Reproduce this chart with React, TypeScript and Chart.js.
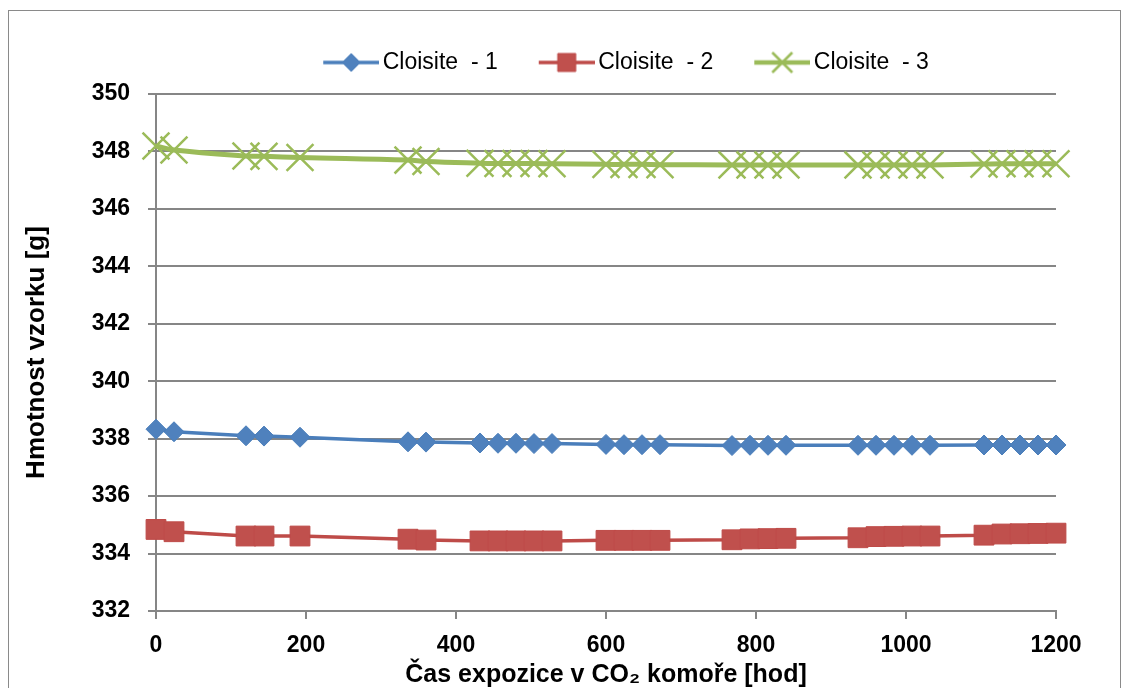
import React, { useEffect, useRef } from "react";
import { Chart, registerables } from "chart.js";

Chart.register(...registerables);

// ---- data ----
const hours = [0, 24, 120, 144, 192, 336, 360, 432, 456, 480, 504, 528, 600, 624, 648, 672, 768, 792, 816, 840, 936, 960, 984, 1008, 1032, 1104, 1128, 1152, 1176, 1200];
const cloisite1 = [338.33, 338.24, 338.10, 338.09, 338.05, 337.89, 337.88, 337.85, 337.84, 337.84, 337.83, 337.83, 337.80, 337.79, 337.79, 337.79, 337.76, 337.77, 337.77, 337.77, 337.77, 337.77, 337.77, 337.77, 337.77, 337.78, 337.78, 337.78, 337.78, 337.78];
const cloisite2 = [334.84, 334.76, 334.61, 334.61, 334.61, 334.50, 334.47, 334.44, 334.44, 334.44, 334.44, 334.44, 334.46, 334.46, 334.46, 334.46, 334.48, 334.51, 334.52, 334.53, 334.55, 334.59, 334.60, 334.61, 334.61, 334.64, 334.68, 334.69, 334.70, 334.71];
const cloisite3 = [348.19, 348.05, 347.84, 347.83, 347.79, 347.70, 347.65, 347.59, 347.58, 347.58, 347.58, 347.57, 347.55, 347.55, 347.55, 347.54, 347.53, 347.53, 347.53, 347.53, 347.53, 347.53, 347.53, 347.53, 347.53, 347.56, 347.57, 347.57, 347.57, 347.57];
const seriesNames = ["Cloisite  - 1", "Cloisite  - 2", "Cloisite  - 3"];
const yMin = 332;
const yMax = 350;
const yStep = 2;
const xMin = 0;
const xMax = 1200;
const xStep = 200;
const xTitle = "Čas expozice v CO₂ komoře [hod]";
const yTitle = "Hmotnost vzorku [g]";

const BLUE = "#4A7EBB";
const BLUE_FILL = "#4F81BD";
const RED = "#BE4B48";
const RED_FILL = "#C0504D";
const GREEN = "#9BBB59";
const GRID = "#868686";
const FONT = "'Liberation Sans', Arial, sans-serif";

function makeIcon(kind: string, line: string, fill: string, lw: number): HTMLCanvasElement {
  const c = document.createElement("canvas");
  c.width = 84;
  c.height = 30;
  const ctx = c.getContext("2d")!;
  ctx.strokeStyle = line;
  ctx.lineWidth = lw;
  ctx.beginPath();
  ctx.moveTo(28, 15);
  ctx.lineTo(84, 15);
  ctx.stroke();
  const cx = 56;
  const cy = 15;
  ctx.fillStyle = fill;
  ctx.strokeStyle = line;
  ctx.beginPath();
  if (kind === "diamond") {
    const r = 9;
    ctx.lineWidth = 1;
    ctx.moveTo(cx - r, cy);
    ctx.lineTo(cx, cy - r);
    ctx.lineTo(cx + r, cy);
    ctx.lineTo(cx, cy + r);
    ctx.closePath();
    ctx.fill();
    ctx.stroke();
  } else if (kind === "square") {
    const h = 9;
    ctx.lineWidth = 1;
    ctx.rect(cx - h, cy - h, 2 * h, 2 * h);
    ctx.fill();
    ctx.stroke();
  } else {
    const h = 10;
    ctx.lineWidth = 2.5;
    ctx.moveTo(cx - h, cy - h);
    ctx.lineTo(cx + h, cy + h);
    ctx.moveTo(cx + h, cy - h);
    ctx.lineTo(cx - h, cy + h);
    ctx.stroke();
  }
  return c;
}

export default function App() {
  const ref = useRef<HTMLCanvasElement | null>(null);

  useEffect(() => {
    if (!ref.current) return;
    const icons = [
      makeIcon("diamond", BLUE, BLUE_FILL, 3.5),
      makeIcon("square", RED, RED_FILL, 3.5),
      makeIcon("cross", GREEN, GREEN, 4.5),
    ];
    const toPts = (arr: number[]) => hours.map((h, i) => ({ x: h, y: arr[i] }));

    const legendShift = {
      id: "legendShift",
      afterLayout(chart: any) {
        const lg = chart.legend;
        if (lg) {
          lg.left += 88;
          lg.right += 88;
          lg.top -= 10;
          lg.bottom -= 10;
        }
      },
    };

    const chart = new Chart(ref.current, {
      type: "line",
      data: {
        datasets: [
          {
            label: seriesNames[0],
            data: toPts(cloisite1),
            borderColor: BLUE,
            backgroundColor: BLUE_FILL,
            borderWidth: 3.5,
            pointStyle: "rectRot",
            pointRadius: 10,
            pointBorderWidth: 1,
            pointBorderColor: BLUE,
            pointBackgroundColor: BLUE_FILL,
            tension: 0,
            clip: false as any,
          },
          {
            label: seriesNames[1],
            data: toPts(cloisite2),
            borderColor: RED,
            backgroundColor: RED_FILL,
            borderWidth: 3.5,
            pointStyle: "rect",
            pointRadius: 14,
            pointBorderWidth: 1,
            pointBorderColor: RED,
            pointBackgroundColor: RED_FILL,
            tension: 0,
            clip: false as any,
          },
          {
            label: seriesNames[2],
            data: toPts(cloisite3),
            borderColor: GREEN,
            backgroundColor: GREEN,
            borderWidth: 5,
            pointStyle: "crossRot",
            pointRadius: 19,
            pointBorderWidth: 2.5,
            pointBorderColor: GREEN,
            tension: 0.4,
            clip: false as any,
          },
        ],
      },
      options: {
        animation: false,
        responsive: false,
        events: [],
        layout: { padding: { top: 40, left: 0, right: 75, bottom: 0 } },
        plugins: {
          tooltip: { enabled: false },
          legend: {
            display: true,
            position: "top",
            labels: {
              usePointStyle: true,
              pointStyleWidth: 68,
              padding: 21,
              color: "#000",
              font: { family: FONT, size: 23, weight: "normal" },
              generateLabels: (ch: any) => {
                const base = Chart.defaults.plugins.legend.labels.generateLabels(ch);
                return base.map((it: any, i: number) => ({ ...it, pointStyle: icons[i] }));
              },
            },
          },
        },
        scales: {
          x: {
            type: "linear",
            min: xMin,
            max: xMax,
            afterFit: (s: any) => {
              s.height = 77;
            },
            ticks: {
              stepSize: xStep,
              padding: 13,
              color: "#000",
              font: { family: FONT, size: 23, weight: "bold" },
              callback: (v: any) => String(v),
            },
            grid: {
              display: true,
              drawOnChartArea: false,
              drawTicks: true,
              tickLength: 8,
              color: GRID,
              lineWidth: 2,
            },
            border: { display: true, color: GRID, width: 2 },
            title: {
              display: true,
              text: xTitle,
              color: "#000",
              padding: { top: 0, bottom: 0 },
              font: { family: FONT, size: 25, weight: "bold", lineHeight: 1 },
            },
          },
          y: {
            type: "linear",
            min: yMin,
            max: yMax,
            afterFit: (s: any) => {
              s.width = 156;
            },
            ticks: {
              stepSize: yStep,
              padding: 18,
              color: "#000",
              font: { family: FONT, size: 23, weight: "bold" },
              callback: (v: any) => String(v),
            },
            grid: {
              display: true,
              drawTicks: true,
              tickLength: 8,
              color: GRID,
              lineWidth: 2,
            },
            border: { display: true, color: GRID, width: 2 },
            title: {
              display: true,
              text: yTitle,
              color: "#000",
              padding: { top: 24, bottom: 0 },
              font: { family: FONT, size: 26, weight: "bold", lineHeight: 1 },
            },
          },
        },
      },
      plugins: [legendShift],
    } as any);

    return () => chart.destroy();
  }, []);

  return (
    <div style={{ position: "fixed", left: 0, top: 0, width: 1131, height: 688, overflow: "hidden", background: "#fff" }}>
      <div
        style={{
          position: "absolute",
          left: 8,
          top: 10,
          width: 1113,
          height: 700,
          border: "1.5px solid #8a8a8a",
          boxSizing: "border-box",
        }}
      />
      <canvas ref={ref} width={1131} height={688} style={{ position: "absolute", left: 0, top: 0 }} />
    </div>
  );
}
